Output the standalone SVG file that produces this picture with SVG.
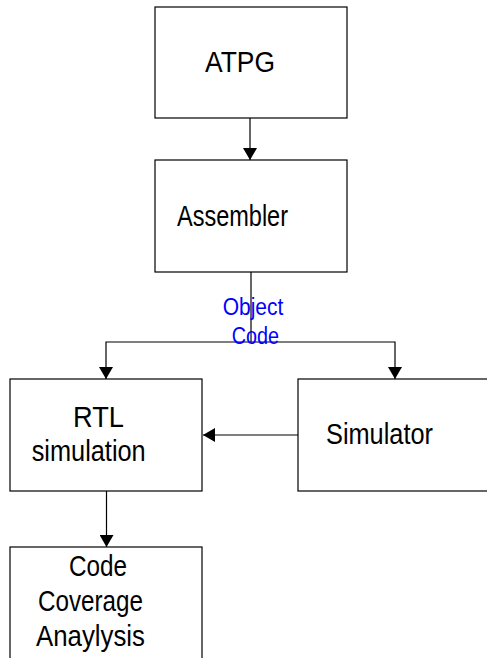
<svg xmlns="http://www.w3.org/2000/svg" width="487" height="658" viewBox="0 0 487 658">
<defs>
<style>
.box{fill:#fff;stroke:#000;stroke-width:1.2}
.lbl{font-family:"Liberation Sans",Arial,sans-serif;font-size:29px;fill:#000}
.blue{font-family:"Liberation Sans",Arial,sans-serif;font-size:23.5px;fill:#0000ff}
.ln{fill:none;stroke:#000;stroke-width:1.2}
</style>
<marker id="ah" viewBox="0 0 12 14" refX="12" refY="7" markerWidth="12" markerHeight="14" markerUnits="userSpaceOnUse" orient="auto">
<path d="M0,0 L12,7 L0,14 Z" fill="#000"/>
</marker>
</defs>
<rect width="487" height="658" fill="#fff"/>
<g id="connectors">
<line class="ln" x1="250" y1="118" x2="250" y2="160" marker-end="url(#ah)"/>
<polyline class="ln" points="251,272 251,342"/>
<polyline class="ln" points="251,342 106,342 106,379" marker-end="url(#ah)"/>
<polyline class="ln" points="251,342 395,342 395,379" marker-end="url(#ah)"/>
<line class="ln" x1="298" y1="435" x2="203" y2="435" marker-end="url(#ah)"/>
<line class="ln" x1="106.5" y1="491" x2="106.5" y2="547" marker-end="url(#ah)"/>
<g id="label-object-code">
<text class="blue" x="222.7" y="315" textLength="60.6" lengthAdjust="spacingAndGlyphs">Object</text>
<text class="blue" x="231.7" y="344" textLength="47.3" lengthAdjust="spacingAndGlyphs">Code</text>
</g>
</g>
<g id="atpg">
<rect class="box" x="155" y="7" width="192" height="111"/>
<text class="lbl" x="205" y="72" textLength="70" lengthAdjust="spacingAndGlyphs">ATPG</text>
</g>
<g id="assembler">
<rect class="box" x="155" y="160" width="192" height="112"/>
<text class="lbl" x="177" y="226" textLength="111" lengthAdjust="spacingAndGlyphs">Assembler</text>
</g>
<g id="rtl-simulation">
<rect class="box" x="10" y="379" width="192" height="112"/>
<text class="lbl" x="73" y="427" textLength="51" lengthAdjust="spacingAndGlyphs">RTL</text>
<text class="lbl" x="31.7" y="461" textLength="114" lengthAdjust="spacingAndGlyphs">simulation</text>
</g>
<g id="simulator">
<rect class="box" x="298" y="379" width="192" height="112"/>
<text class="lbl" x="326" y="444" textLength="107" lengthAdjust="spacingAndGlyphs">Simulator</text>
</g>
<g id="code-coverage">
<rect class="box" x="10" y="547" width="192" height="130"/>
<text class="lbl" x="69" y="576" textLength="58" lengthAdjust="spacingAndGlyphs">Code</text>
<text class="lbl" x="38" y="610.5" textLength="105" lengthAdjust="spacingAndGlyphs">Coverage</text>
<text class="lbl" x="36" y="645.5" textLength="109" lengthAdjust="spacingAndGlyphs">Anaylysis</text>
</g>
</svg>
